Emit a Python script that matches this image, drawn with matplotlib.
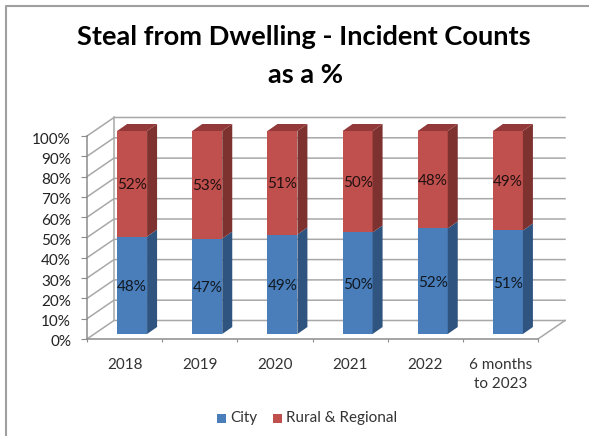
import matplotlib
matplotlib.use("Agg")
import matplotlib.pyplot as plt
from matplotlib.patches import Polygon, Rectangle
from matplotlib.ticker import FuncFormatter
from matplotlib.transforms import ScaledTranslation

W, H = 589, 436
categories = ["2018", "2019", "2020", "2021", "2022", "6 months\nto 2023"]
city = [48, 47, 49, 50, 52, 51]
rural = [52, 53, 51, 50, 48, 49]
yticks = list(range(0, 101, 10))

plt.rcParams["font.family"] = ["Lato", "DejaVu Sans"]
fig = plt.figure(figsize=(W / 100, H / 100), dpi=100, facecolor="white")

L, R, T, B = 87, 538, 136, 339
ax = fig.add_axes([L / W, 1 - B / H, (R - L) / W, (B - T) / H])
ax.set_xlim(0, 6)
ax.set_ylim(0, 100)
ax.patch.set_visible(False)
sx, sy = 6 / (R - L), 100 / (B - T)
wall_dx, wall_dy = 27 * sx, 18.5 * sy
bar_w, bar_dx, bar_dy = 30 * sx, 10 * sx, 7 * sy
shift_x, shift_y = 7.5 * sx, 5 * sy
label_dy = 3.5 * sy

GRID = "#a8a8a8"
for y in yticks:
    ax.plot([0, wall_dx, 6 + wall_dx], [y, y + wall_dy, y + wall_dy],
            color=GRID, lw=1.1, clip_on=False, zorder=1)
ax.plot([wall_dx, wall_dx], [wall_dy, 100 + wall_dy], color=GRID, lw=1.1, clip_on=False, zorder=1)
ax.plot([6, 6 + wall_dx], [0, wall_dy], color=GRID, lw=1.1, clip_on=False, zorder=1)


def block(x, y0, h, front, side, top):
    xl = x + shift_x - bar_w / 2
    xr = xl + bar_w
    yb = y0 + shift_y
    yt = yb + h
    ax.add_patch(Rectangle((xl, yb), bar_w, h, fc=front, ec="none", zorder=3, clip_on=False))
    ax.add_patch(Polygon([(xr, yb), (xr + bar_dx, yb + bar_dy), (xr + bar_dx, yt + bar_dy), (xr, yt)],
                         fc=side, ec="none", zorder=3, clip_on=False))
    if top:
        ax.add_patch(Polygon([(xl, yt), (xl + bar_dx, yt + bar_dy), (xr + bar_dx, yt + bar_dy), (xr, yt)],
                             fc=top, ec="none", zorder=3, clip_on=False))


for i, (c, r) in enumerate(zip(city, rural)):
    x = i + 0.5
    block(x, 0, c, "#4a7ebb", "#2f5480", None)
    block(x, c, r, "#c0504d", "#7d3230", "#93393a")
    ax.text(x + shift_x, c / 2 + label_dy, f"{c}%", ha="center", va="center",
            fontsize=11, color="#101820", zorder=5)
    ax.text(x + shift_x, c + r / 2 + label_dy, f"{r}%", ha="center", va="center",
            fontsize=11, color="#201010", zorder=5)

for s in ("top", "right"):
    ax.spines[s].set_visible(False)
for s in ("left", "bottom"):
    ax.spines[s].set_color("#8c8c8c")
    ax.spines[s].set_linewidth(1.1)
ax.set_xticks(range(7))
ax.set_xticklabels([""] * 7)
ax.set_xticks([i + 0.5 for i in range(6)], minor=True)
ax.set_xticklabels(categories, minor=True, fontsize=11, color="#333333", linespacing=1.45)
ax.tick_params(axis="x", which="major", length=2.5, color="#8c8c8c", direction="out")
ax.tick_params(axis="x", which="minor", length=0, pad=14)
ax.set_yticks(yticks)
ax.yaxis.set_major_formatter(FuncFormatter(lambda v, _: f"{v:.0f}%"))
ax.tick_params(axis="y", length=4, color="#8c8c8c", labelsize=11, labelcolor="#222222", pad=7.5)
offset = ScaledTranslation(0, -2 / 100, fig.dpi_scale_trans)
for lab in ax.get_yticklabels():
    lab.set_transform(lab.get_transform() + offset)

fig.text(304 / W, 1 - 37 / H, "Steal from Dwelling - Incident Counts", ha="center", va="center",
         fontsize=19.6, fontweight="bold", color="black")
fig.text(305 / W, 1 - 75 / H, "as a %", ha="center", va="center",
         fontsize=19.6, fontweight="bold", color="black")

legend_y = 1 - 418 / H
fig.patches.append(Rectangle((217 / W, legend_y - 4.5 / H), 9 / W, 9 / H, fc="#4a7ebb", ec="none",
                             transform=fig.transFigure))
fig.text(230 / W, legend_y, "City", va="center", fontsize=11, color="#333333")
fig.patches.append(Rectangle((273 / W, legend_y - 4.5 / H), 9 / W, 9 / H, fc="#c0504d", ec="none",
                             transform=fig.transFigure))
fig.text(286 / W, legend_y, "Rural & Regional", va="center", fontsize=11, color="#333333")

# chart frame: left and top edges only
fig.add_artist(plt.Line2D([6 / W, 6 / W, 1], [0, 1 - 6 / H, 1 - 6 / H], color="#a0a0a0", lw=1.5,
                          transform=fig.transFigure))

fig.savefig("out.png", dpi=100, facecolor="white")
